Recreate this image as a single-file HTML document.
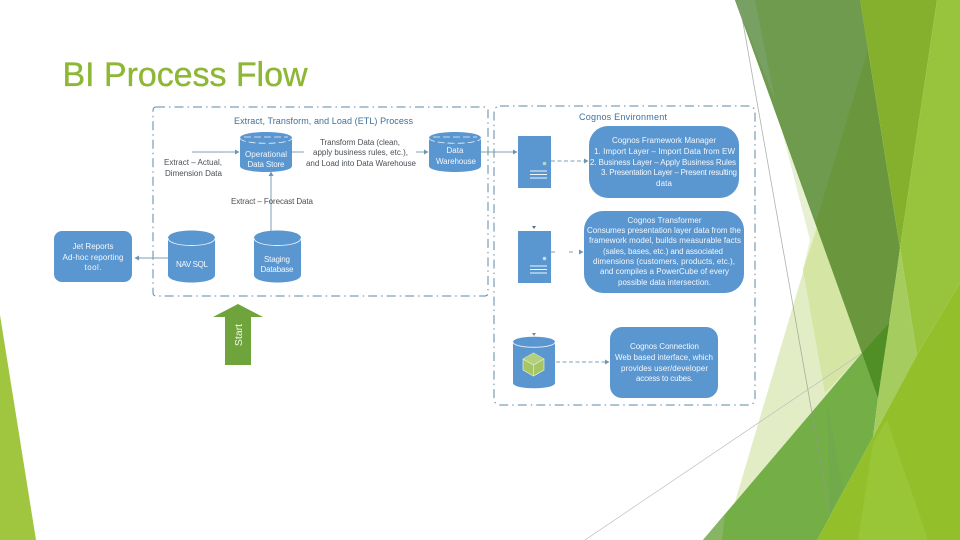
<!DOCTYPE html>
<html lang="en">
<head>
<meta charset="utf-8">
<title>BI Process Flow</title>
<style>
html,body{margin:0;padding:0;background:#fff;width:960px;height:540px;overflow:hidden}
svg{display:block}
text{font-family:"Liberation Sans",sans-serif}
.w{fill:#f4f8fc;font-size:8px;text-anchor:middle}
.d{fill:#4a4f55;font-size:8px;text-anchor:middle}
.h{fill:#3f6f9c;font-size:9px;text-anchor:middle}
</style>
</head>
<body>
<svg width="960" height="540" viewBox="0 0 960 540" xmlns="http://www.w3.org/2000/svg">
<defs>
<marker id="a" markerWidth="6" markerHeight="6" refX="4" refY="2.5" orient="auto"><path d="M0 0L4.500 2.500L0 5z" fill="#6f95b0"/></marker>
</defs>
<rect width="960" height="540" fill="#fff"/>

<!-- left corner -->
<polygon points="0,315 36,540 0,540" fill="#a0c63f"/>

<!-- decorative facets -->
<polygon points="780,123 830,262 803,270 810,240" fill="#e8f0d3"/>
<polygon points="817,225 862,353 703,540 735,502" fill="#e2edc5"/>
<polygon points="803,270 817,228 862,353 825,393" fill="#d4e5a4"/>
<polygon points="735,0 860,0 900,248 897,270 878,398" fill="#6a973e"/>
<polygon points="735,0 860,0 868,50 816,222" fill="#6f9b4e"/>
<polygon points="735,0 755,0 775,100" fill="#77a062"/>
<polygon points="860,0 937,0 900,248" fill="#85b02e"/>
<polygon points="703,540 862,353 890,322 878,398 873,437 817,540" fill="#74ae47"/>
<polygon points="862,353 890,322 878,398" fill="#4f8f25"/>
<polygon points="703,540 725,514 722,540" fill="#86b564"/>
<polygon points="827,403 843,487 817,540 830,515" fill="#70aa4a"/>
<polygon points="937,0 960,0 960,283 917,355 900,248" fill="#97c43c"/>
<polygon points="900,248 897,270 878,398 873,437 917,355" fill="#a5cc5e"/>
<polygon points="960,283 960,540 817,540 873,437 917,355" fill="#92bf2a"/>
<polygon points="873,443 887,420 928,540 858,540" fill="#98c636"/>

<!-- thin lines -->
<line x1="739" y1="0" x2="830" y2="515" stroke="#8f9a8f" stroke-width=".8" opacity=".75"/>
<line x1="585" y1="540" x2="862" y2="353" stroke="#bcbcbc" stroke-width=".7"/>

<!-- title -->
<text x="62.500" y="86" font-size="34" fill="#8db735" stroke="#8db735" stroke-width=".35" textLength="245" lengthAdjust="spacing">BI Process Flow</text>

<!-- dashed containers -->
<rect x="153" y="107" width="335" height="189" rx="3" fill="none" stroke="#5f8aa5" stroke-width="1" stroke-dasharray="9 4 1.500 4"/>
<rect x="494" y="106" width="261" height="299" rx="6" fill="none" stroke="#5f8aa5" stroke-width="1" stroke-dasharray="9 4 1.500 4"/>

<!-- connectors -->
<g fill="none" stroke="#7e9fb6" stroke-width="1">
<line x1="192" y1="152" x2="239" y2="152" marker-end="url(#a)"/>
<line x1="292" y1="152" x2="304" y2="152"/>
<line x1="416" y1="152" x2="428" y2="152" marker-end="url(#a)"/>
<line x1="481" y1="152" x2="517" y2="152" marker-end="url(#a)"/>
<line x1="271" y1="231" x2="271" y2="172" marker-end="url(#a)"/>
<line x1="168" y1="258" x2="135" y2="258" marker-end="url(#a)"/>
<line x1="551" y1="161" x2="588" y2="161" stroke-dasharray="4 2.500" marker-end="url(#a)"/>
<line x1="551" y1="252" x2="583" y2="252" stroke-dasharray="4 14" marker-end="url(#a)"/>
<line x1="556" y1="362" x2="609" y2="362" stroke-dasharray="4 2.500" marker-end="url(#a)"/>
</g>

<!-- cylinders -->
<g fill="#5a96d0">
<path d="M240 138C240 130 292 130 292 138V166C292 174 240 174 240 166z"/>
<path d="M429 138C429 130 481 130 481 138V166C481 174 429 174 429 166z"/>
<path d="M168 238C168 228 215 228 215 238V275C215 285 168 285 168 275z"/>
<path d="M254 238C254 228 301 228 301 238V275C301 285 254 285 254 275z"/>
<path d="M513 342C513 335 555 335 555 342V383C555 390 513 390 513 383z"/>
</g>
<g fill="none" stroke="#eaf2fa" stroke-width=".8" stroke-dasharray="7 3">
<path d="M240 138C240 145 292 145 292 138"/>
<path d="M429 138C429 145 481 145 481 138"/>
<path d="M244 137H288"/>
<path d="M433 137H477"/>
</g>
<g fill="none" stroke="#eaf2fa" stroke-width=".9">
<path d="M168 238C168 248 215 248 215 238"/>
<path d="M254 238C254 248 301 248 301 238"/>
<path d="M513 342C513 349 555 349 555 342"/>
</g>

<!-- boxes -->
<g fill="#5a96d0">
<rect x="54" y="231" width="78" height="51" rx="8"/>
<rect x="589" y="126" width="150" height="72" rx="19"/>
<rect x="584" y="211" width="160" height="82" rx="19"/>
<rect x="610" y="327" width="108" height="71" rx="12"/>
<rect x="518" y="136" width="33" height="52"/>
<rect x="518" y="231" width="33" height="52"/>
</g>

<!-- server details -->
<g stroke="#f2f6fa" stroke-width="1">
<path d="M530 171H547M530 174.500H547M530 178H547"/>
<path d="M530 266H547M530 269.500H547M530 273H547"/>
</g>
<circle cx="544.500" cy="163.500" r="1.800" fill="#b8d9b0"/>
<circle cx="544.500" cy="258.500" r="1.800" fill="#c4dce8"/>
<polygon points="532,226 536,226 534,229" fill="#54708a"/>
<polygon points="532,333 536,333 534,336" fill="#7c8a94"/>

<!-- cube -->
<polygon points="533.500,353 544,359 544,370 533.500,376 523,370 523,359" fill="#a6c565" stroke="#dce8c4" stroke-width=".8"/>
<polygon points="533.500,353 544,359 533.500,365 523,359" fill="#b5d07c"/>
<path d="M523 359L533.500 365L544 359M533.500 365V376" fill="none" stroke="#dce8c4" stroke-width=".8"/>

<!-- start arrow -->
<polygon points="238,304 263,317 251,317 251,365 225,365 225,317 213,317" fill="#6fa33b"/>
<text transform="translate(242,335) rotate(-90)" fill="#f2f7ea" font-size="10.500" text-anchor="middle">Start</text>

<!-- headings -->
<text class="h" x="323.500" y="124" textLength="179">Extract, Transform, and Load (ETL) Process</text>
<text class="h" x="623" y="120" textLength="88">Cognos Environment</text>

<!-- dark labels -->
<text class="d" x="193" y="165" textLength="58">Extract – Actual,</text>
<text class="d" x="193.500" y="176" textLength="57">Dimension Data</text>
<text class="d" x="272" y="204" textLength="82">Extract – Forecast Data</text>
<text class="d" x="360" y="145" textLength="80">Transform Data (clean,</text>
<text class="d" x="360.500" y="155" textLength="95">apply business rules, etc.),</text>
<text class="d" x="361" y="166" textLength="110">and Load into Data Warehouse</text>

<!-- white labels -->
<text class="w" x="266" y="157" textLength="42">Operational</text>
<text class="w" x="266" y="167" textLength="37">Data Store</text>
<text class="w" x="455" y="153" textLength="17">Data</text>
<text class="w" x="456" y="164" textLength="40">Warehouse</text>
<text class="w" x="192" y="267" textLength="32">NAV SQL</text>
<text class="w" x="277" y="262" textLength="26">Staging</text>
<text class="w" x="277" y="272" textLength="33">Database</text>

<text class="w" x="93" y="249" textLength="41">Jet Reports</text>
<text class="w" x="93" y="260" textLength="61">Ad-hoc reporting</text>
<text class="w" x="93" y="270" textLength="17">tool.</text>

<text class="w" x="664" y="143" textLength="104">Cognos Framework Manager</text>
<text class="w" x="664.500" y="154" textLength="141">1. Import Layer – Import Data from EW</text>
<text class="w" x="663" y="165" textLength="146">2. Business Layer – Apply Business Rules</text>
<text class="w" x="669" y="175" textLength="136">3. Presentation Layer – Present resulting</text>
<text class="w" x="664" y="186" textLength="16">data</text>

<text class="w" x="664.500" y="223" textLength="74">Cognos Transformer</text>
<text class="w" x="664" y="233" textLength="154">Consumes presentation layer data from the</text>
<text class="w" x="665" y="243" textLength="152">framework model, builds measurable facts</text>
<text class="w" x="663" y="254" textLength="120">(sales, bases, etc.) and associated</text>
<text class="w" x="664" y="264" textLength="142">dimensions (customers, products, etc.),</text>
<text class="w" x="664.500" y="274" textLength="129">and compiles a PowerCube of every</text>
<text class="w" x="664.500" y="285" textLength="93">possible data intersection.</text>

<text class="w" x="664.500" y="349" textLength="69">Cognos Connection</text>
<text class="w" x="664" y="360" textLength="98">Web based interface, which</text>
<text class="w" x="664.500" y="371" textLength="87">provides user/developer</text>
<text class="w" x="664.500" y="381" textLength="57">access to cubes.</text>
</svg>
</body>
</html>
